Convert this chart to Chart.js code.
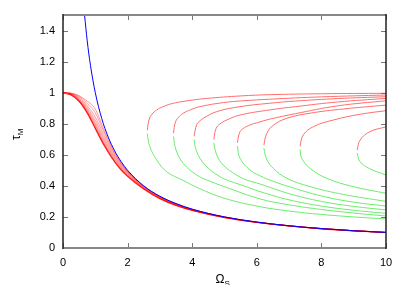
<!DOCTYPE html>
<html>
<head>
<meta charset="utf-8">
<script src="https://cdn.jsdelivr.net/npm/chart.js@4.4.1/dist/chart.umd.min.js"></script>
<style>
  html, body { margin: 0; padding: 0; background: #fff; }
  #chart { display: block; }
</style>
</head>
<body>
<canvas id="chart" width="407" height="285"></canvas>
<script>
// axis ticks
const xTicks = [0, 2, 4, 6, 8, 10];
const yTicks = [0, 0.2, 0.4, 0.6, 0.8, 1, 1.2, 1.4];

// red bundle starting at (0,1): shared x, one y list per curve
const bundleX = [0, 0.25, 0.5, 0.75, 1, 1.25, 1.5, 1.75, 2, 2.5, 3, 3.5, 4, 5, 6, 7, 8, 9, 10];
const bundle1 = [1, .997, .98, .945, .895, .771, .655, .565, .495, .398, .332, .285, .25, .2, .167, .143, .125, .111, .1];
const bundle2 = [1, .996, .975, .93, .87, .755, .645, .56, .492, .397, .331, .284, .249, .2, .166, .143, .125, .111, .1];
const bundle3 = [1, .994, .968, .915, .843, .735, .634, .553, .49, .395, .329, .283, .248, .199, .166, .143, .125, .111, .1];
const bundle4 = [1, .992, .962, .903, .822, .717, .622, .545, .485, .392, .327, .281, .246, .199, .166, .142, .125, .111, .1];
const bundle5 = [1, .99, .957, .893, .805, .702, .612, .537, .479, .389, .325, .279, .245, .198, .166, .142, .125, .111, .1];
const bundle6 = [1, .988, .952, .884, .792, .69, .603, .53, .474, .387, .323, .277, .244, .198, .165, .142, .124, .111, .1];
const bundle7 = [1, .987, .948, .877, .781, .68, .594, .523, .468, .384, .321, .276, .243, .197, .165, .142, .124, .111, .1];
const bundle8 = [1, .985, .945, .87, .77, .67, .585, .515, .462, .38, .318, .274, .242, .196, .165, .142, .124, .111, .1];

// blue curve
const blueX = [0.667, 0.75, 0.85, 1, 1.2, 1.4, 1.6, 1.8, 2, 2.5, 3, 3.5, 4, 5, 6, 7, 8, 9, 10];
const blueY = [1.5, 1.333, 1.176, 1, .833, .714, .625, .556, .5, .4, .333, .286, .25, .2, .167, .143, .125, .111, .1];

// hooks: upper (red) and lower (green) branches, [x, y], starting at the tip
const hook1Upper = [[2.61,.758],[2.67,.83],[2.75,.86],[2.9,.889],[3.1,.91],[3.42,.932],[4,.952],[4.45,.963],[5.5,.979],[6.4,.987],[8,.993],[10,.996]];
const hook2Upper = [[3.42,.74],[3.48,.81],[3.55,.835],[3.72,.867],[3.95,.89],[4.24,.91],[4.96,.936],[5.6,.948],[6.4,.958],[8,.973],[10,.985]];
const hook3Upper = [[4.06,.72],[4.14,.795],[4.22,.815],[4.34,.835],[4.76,.878],[5.48,.91],[6.4,.932],[7.2,.946],[8.5,.962],[10,.974]];
const hook4Upper = [[4.67,.698],[4.74,.77],[4.85,.797],[5.07,.824],[5.48,.856],[6.4,.889],[7.2,.91],[8.5,.94],[10,.963]];
const hook5Upper = [[5.4,.677],[5.48,.749],[5.6,.772],[5.79,.792],[6.1,.812],[6.41,.83],[7.2,.865],[8.5,.915],[10,.948]];
const hook6Upper = [[6.22,.662],[6.31,.738],[6.51,.79],[6.93,.835],[7.65,.868],[8.68,.895],[10,.92]];
const hook7Upper = [[7.34,.655],[7.44,.728],[7.75,.781],[8.37,.824],[9.2,.861],[10,.884]];
const hook8Upper = [[9.11,.63],[9.2,.695],[9.5,.749],[10,.78]];

const hook1Lower = [[2.61,.737],[2.69,.652],[2.9,.567],[3.21,.491],[3.72,.435],[4.2,.385],[5,.32],[6.1,.266],[7,.238],[8,.216],[9,.2],[10,.187]];
const hook2Lower = [[3.42,.718],[3.5,.631],[3.72,.545],[4.14,.47],[4.45,.438],[5,.395],[6.1,.316],[7,.278],[8,.248],[9,.225],[10,.206]];
const hook3Lower = [[4.06,.698],[4.14,.62],[4.4,.534],[4.86,.459],[5.17,.43],[5.6,.4],[6.1,.363],[7,.31],[8,.27],[9,.243],[10,.223]];
const hook4Lower = [[4.67,.677],[4.76,.599],[4.96,.534],[5.37,.47],[5.68,.438],[6.1,.412],[7,.35],[8,.3],[9,.268],[10,.245]];
const hook5Lower = [[5.4,.656],[5.48,.578],[5.79,.502],[6.2,.455],[6.5,.43],[7,.395],[8,.335],[9,.295],[10,.27]];
const hook6Lower = [[6.22,.643],[6.31,.57],[6.51,.513],[6.93,.449],[7.65,.395],[8.68,.345],[10,.3]];
const hook7Lower = [[7.34,.635],[7.39,.578],[7.65,.513],[8.16,.449],[8.99,.395],[10,.352]];
const hook8Lower = [[9.11,.612],[9.2,.555],[9.5,.51],[10,.47]];

const FONT = '"Liberation Sans", Arial, sans-serif';
const RED_HOOK = 'rgb(255,110,110)';
const GREEN_HOOK = 'rgb(110,235,110)';

function line(points, color, width, order) {
    return {
        data: points.map(p => ({ x: p[0], y: p[1] })),
        showLine: true,
        borderColor: color,
        borderWidth: width,
        pointRadius: 0,
        cubicInterpolationMode: 'monotone',
        fill: false,
        order: order
    };
}

// one dataset per hook: lower branch walked back to the tip, then the upper branch
function hook(lower, upper) {
    const n = lower.length;
    const pts = lower.slice().reverse().concat(upper);
    return {
        data: pts.map(p => ({ x: p[0], y: p[1] })),
        showLine: true,
        borderColor: RED_HOOK,
        borderWidth: 1,
        pointRadius: 0,
        tension: 0.4,
        fill: false,
        order: 3,
        segment: {
            borderColor: c => c.p1DataIndex < n ? GREEN_HOOK : (c.p0DataIndex >= n ? RED_HOOK : 'rgba(0,0,0,0)')
        }
    };
}

const zip = (xs, ys) => xs.map((x, i) => [x, ys[i]]);

const datasets = [];
datasets.push(line(zip(blueX, blueY), '#0000ff', 1, 0));
[bundle1, bundle2, bundle3, bundle4, bundle5, bundle6, bundle7].forEach(ys => {
    datasets.push(line(zip(bundleX, ys), 'rgba(255,0,0,0.4)', 1, 2));
});
datasets.push(line(zip(bundleX, bundle8), 'rgba(255,0,0,0.9)', 1.3, 1));
const lowers = [hook1Lower, hook2Lower, hook3Lower, hook4Lower, hook5Lower, hook6Lower, hook7Lower, hook8Lower];
const uppers = [hook1Upper, hook2Upper, hook3Upper, hook4Upper, hook5Upper, hook6Upper, hook7Upper, hook8Upper];
lowers.forEach((lo, i) => datasets.push(hook(lo, uppers[i])));

// frame, inward ticks on all sides, axis titles with subscripts
const framePlugin = {
    id: 'frame',
    afterDraw(chart) {
        const ctx = chart.ctx;
        const a = chart.chartArea;
        const xs = chart.scales.x, ys = chart.scales.y;
        ctx.save();
        ctx.strokeStyle = '#777';
        ctx.lineWidth = 1;
        ctx.beginPath();
        xTicks.forEach(v => {
            const px = Math.round(xs.getPixelForValue(v)) + 0.5;
            ctx.moveTo(px, a.bottom); ctx.lineTo(px, a.bottom - 5);
            ctx.moveTo(px, a.top); ctx.lineTo(px, a.top + 5);
        });
        yTicks.forEach(v => {
            const py = Math.round(ys.getPixelForValue(v)) + 0.5;
            ctx.moveTo(a.left, py); ctx.lineTo(a.left + 5, py);
            ctx.moveTo(a.right, py); ctx.lineTo(a.right - 5, py);
        });
        ctx.stroke();

        ctx.lineWidth = 2;
        ctx.strokeStyle = '#888';
        ctx.beginPath();
        ctx.moveTo(a.left, a.top); ctx.lineTo(a.right, a.top);
        ctx.moveTo(a.left, a.bottom); ctx.lineTo(a.right, a.bottom);
        ctx.stroke();
        ctx.lineWidth = 1.5;
        ctx.strokeStyle = '#222';
        ctx.beginPath();
        ctx.moveTo(a.left, a.top - 1); ctx.lineTo(a.left, a.bottom + 1);
        ctx.moveTo(a.right, a.top - 1); ctx.lineTo(a.right, a.bottom + 1);
        ctx.stroke();

        ctx.fillStyle = '#000';
        ctx.textBaseline = 'alphabetic';
        ctx.textAlign = 'left';
        // x title: Omega_S
        ctx.font = '12px ' + FONT;
        const xt = 'Ω';
        const xw = ctx.measureText(xt).width;
        const x0 = (a.left + a.right) / 2 - 9;
        ctx.fillText(xt, x0, 283);
        ctx.font = '8px ' + FONT;
        ctx.fillText('S', x0 + xw, 286);

        // y title: tau_M, rotated
        ctx.translate(20, 140);
        ctx.rotate(-Math.PI / 2);
        ctx.font = '12px ' + FONT;
        const yt = 'τ';
        const yw = ctx.measureText(yt).width;
        ctx.fillText(yt, 0, 0);
        ctx.font = '8px ' + FONT;
        ctx.fillText('M', yw, 3);
        ctx.restore();
    }
};

new Chart(document.getElementById('chart'), {
    type: 'scatter',
    data: { datasets: datasets },
    options: {
        responsive: false,
        animation: false,
        devicePixelRatio: 1,
        layout: { padding: { top: 15, right: 21, left: 0, bottom: 0 } },
        plugins: { legend: { display: false }, tooltip: { enabled: false } },
        scales: {
            x: {
                type: 'linear', min: 0, max: 10,
                afterBuildTicks: s => { s.ticks = xTicks.map(v => ({ value: v })); },
                afterFit: s => { s.height = 37; },
                grid: { display: false, drawTicks: false },
                border: { display: false },
                ticks: { color: '#000', padding: 8, maxRotation: 0, font: { family: FONT, size: 11 },
                    callback: v => String(v) }
            },
            y: {
                type: 'linear', min: 0, max: 1.5,
                afterBuildTicks: s => { s.ticks = yTicks.map(v => ({ value: v })); },
                afterFit: s => { s.width = 63; },
                grid: { display: false, drawTicks: false },
                border: { display: false },
                ticks: { color: '#000', padding: 8, font: { family: FONT, size: 11 },
                    callback: v => String(Math.round(v * 10) / 10) }
            }
        }
    },
    plugins: [framePlugin]
});
</script>
</body>
</html>
